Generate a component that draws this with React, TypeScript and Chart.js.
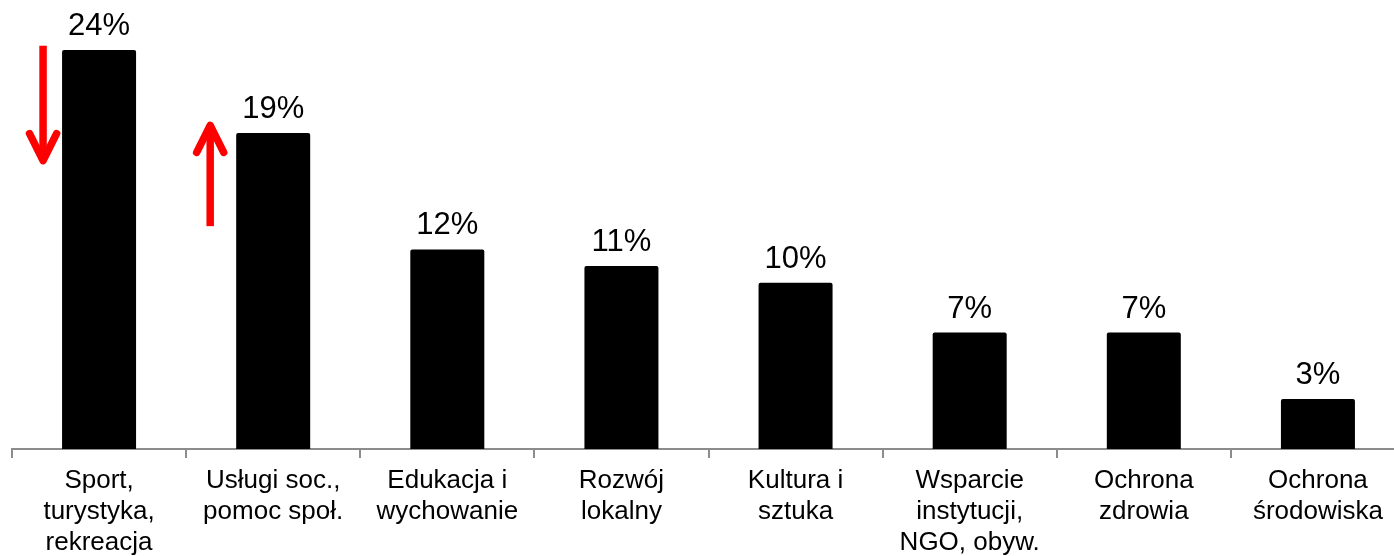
import React, { useEffect, useRef } from "react";
import { Chart, registerables } from "chart.js";

Chart.register(...registerables);

// ---- data ----
const categories: string[][] = [
  ["Sport,", "turystyka,", "rekreacja"],
  ["Usługi soc.,", "pomoc społ."],
  ["Edukacja i", "wychowanie"],
  ["Rozwój", "lokalny"],
  ["Kultura i", "sztuka"],
  ["Wsparcie", "instytucji,", "NGO, obyw."],
  ["Ochrona", "zdrowia"],
  ["Ochrona", "środowiska"],
];
const shares = [24, 19, 12, 11, 10, 7, 7, 3];
const valueLabels = ["24%", "19%", "12%", "11%", "10%", "7%", "7%", "3%"];
// trend arrows: which bar, value where the arrow starts, value where its tip points
const trendArrows = [
  { index: 0, from: 24.25, to: 17.1 },
  { index: 1, from: 13.4, to: 19.7 },
];

// ---- styles ----
const FONT = "'Liberation Sans', Arial, Helvetica, sans-serif";
const AXIS_GREY = "#8c8c8c";
const ARROW_RED = "#ff0000";
const arrowGaps = [19, 26];

const valueLabelPlugin = {
  id: "valueLabels",
  afterDatasetsDraw(chart: any) {
    const ctx = chart.ctx;
    const meta = chart.getDatasetMeta(0);
    ctx.save();
    ctx.font = `31px ${FONT}`;
    ctx.fillStyle = "#000";
    ctx.textAlign = "center";
    ctx.textBaseline = "alphabetic";
    meta.data.forEach((bar: any, i: number) => {
      ctx.fillText(valueLabels[i], bar.x, bar.y - 15);
    });
    ctx.restore();
  },
};

const arrowPlugin = {
  id: "trendArrows",
  afterDraw(chart: any) {
    const ctx = chart.ctx;
    const meta = chart.getDatasetMeta(0);
    const yScale = chart.scales.y;
    trendArrows.forEach((a, k) => {
      const bar: any = meta.data[a.index];
      const x = bar.x - bar.width / 2 - arrowGaps[k];
      const y0 = yScale.getPixelForValue(a.from);
      const y1 = yScale.getPixelForValue(a.to);
      const dir = y1 > y0 ? 1 : -1;
      const tip = y1 - dir * 4;
      ctx.save();
      ctx.strokeStyle = ARROW_RED;
      ctx.lineWidth = 7.5;
      ctx.lineCap = "butt";
      ctx.beginPath();
      ctx.moveTo(x, y0);
      ctx.lineTo(x, tip);
      ctx.stroke();
      ctx.lineCap = "round";
      ctx.lineJoin = "round";
      ctx.beginPath();
      ctx.moveTo(x - 13.5, tip - dir * 27);
      ctx.lineTo(x, tip);
      ctx.lineTo(x + 13.5, tip - dir * 27);
      ctx.stroke();
      ctx.restore();
    });
  },
};

export default function App() {
  const canvasRef = useRef<HTMLCanvasElement | null>(null);

  useEffect(() => {
    if (!canvasRef.current) return;
    const chart = new Chart(canvasRef.current, {
      type: "bar",
      data: {
        labels: categories,
        datasets: [
          {
            data: shares,
            backgroundColor: "#000000",
            borderRadius: 2,
            borderSkipped: "bottom",
            categoryPercentage: 1,
            barPercentage: 0.425,
          },
        ],
      },
      options: {
        animation: false,
        responsive: false,
        devicePixelRatio: 1,
        layout: { padding: { left: 12, right: 0, top: 0, bottom: 0 } },
        plugins: {
          legend: { display: false },
          tooltip: { enabled: false },
          title: { display: false },
        },
        scales: {
          x: {
            z: 1,
            grid: {
              display: true,
              drawOnChartArea: false,
              drawTicks: true,
              tickLength: 9,
              color: AXIS_GREY,
              lineWidth: 2,
              offset: true,
            },
            border: { display: true, color: AXIS_GREY, width: 2 },
            ticks: {
              color: "#000",
              font: { family: FONT, size: 26, lineHeight: 1.2 },
              padding: 7,
              maxRotation: 0,
              autoSkip: false,
            },
            afterFit(scale: any) {
              scale.height = 107;
            },
          },
          y: {
            display: false,
            min: 0,
            max: 27,
          },
        },
      },
      plugins: [valueLabelPlugin, arrowPlugin],
    } as any);
    return () => chart.destroy();
  }, []);

  return (
    <div
      style={{
        position: "fixed",
        left: 0,
        top: 0,
        width: 1394,
        height: 556,
        overflow: "hidden",
        background: "#fff",
      }}
    >
      <canvas ref={canvasRef} width={1405} height={556} style={{ display: "block" }} />
    </div>
  );
}
